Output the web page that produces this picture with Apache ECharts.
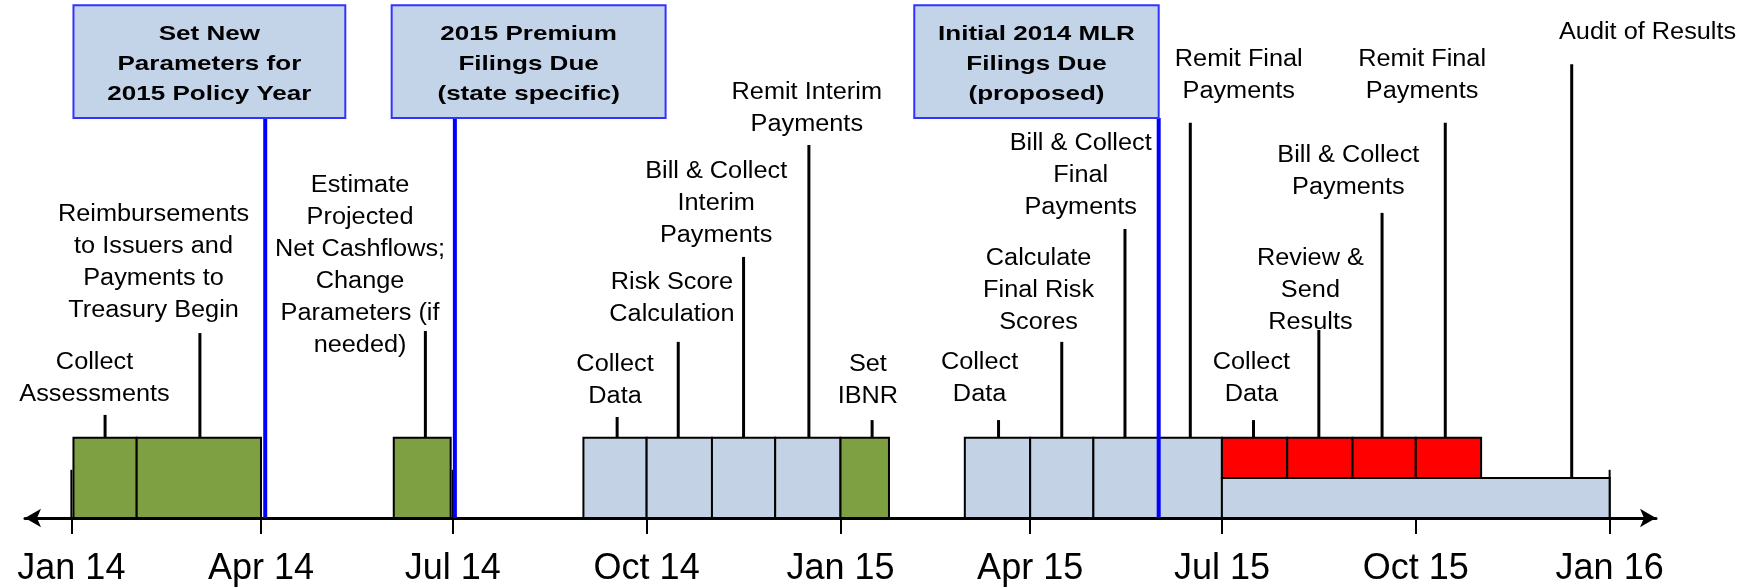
<!DOCTYPE html>
<html>
<head>
<meta charset="utf-8">
<style>
  html, body { margin: 0; padding: 0; background: #fff; }
  #chart { width: 1744px; height: 587px; }
</style>
<script src="https://cdn.jsdelivr.net/npm/echarts@6/dist/echarts.min.js"></script>
</head>
<body>
<div id="chart"></div>
<script>
// axis ticks
const tickDates = ['2014-01-01', '2014-04-01', '2014-07-01', '2014-10-01', '2015-01-01', '2015-04-01', '2015-07-01', '2015-10-01', '2016-01-01']
const tickLabels = ['Jan 14', 'Apr 14', 'Jul 14', 'Oct 14', 'Jan 15', 'Apr 15', 'Jul 15', 'Oct 15', 'Jan 16']

// timeline blocks (height scale 0-100)
const blockStart = ['2014-01-02', '2014-02-01', '2014-06-03', '2014-09-01', '2014-10-01', '2014-11-01', '2014-12-01', '2015-01-01', '2015-03-01', '2015-04-01', '2015-05-01', '2015-06-01', '2015-07-01', '2015-08-01', '2015-09-01', '2015-10-01', '2015-07-01']
const blockEnd = ['2014-02-01', '2014-04-01', '2014-06-30', '2014-10-01', '2014-11-01', '2014-12-01', '2015-01-01', '2015-01-24', '2015-04-01', '2015-05-01', '2015-06-01', '2015-07-01', '2015-08-01', '2015-09-01', '2015-10-01', '2015-11-01', '2016-01-01']
const blockBase = [0, 0, 0, 0, 0, 0, 0, 0, 0, 0, 0, 0, 7.7, 7.7, 7.7, 7.7, 0]
const blockTop = [15.5, 15.5, 15.5, 15.5, 15.5, 15.5, 15.5, 15.5, 15.5, 15.5, 15.5, 15.5, 15.5, 15.5, 15.5, 15.5, 7.7]
const blockKind = ['g', 'g', 'g', 'b', 'b', 'b', 'b', 'g', 'b', 'b', 'b', 'b', 'r', 'r', 'r', 'r', 'b']

// activity notes
const noteText = [
  'Collect\nAssessments',
  'Reimbursements\nto Issuers and\nPayments to\nTreasury Begin',
  'Estimate\nProjected\nNet Cashflows;\nChange\nParameters (if\nneeded)',
  'Collect\nData',
  'Risk Score\nCalculation',
  'Bill & Collect\nInterim\nPayments',
  'Remit Interim\nPayments',
  'Set\nIBNR',
  'Collect\nData',
  'Calculate\nFinal Risk\nScores',
  'Bill & Collect\nFinal\nPayments',
  'Remit Final\nPayments',
  'Collect\nData',
  'Review &\nSend\nResults',
  'Bill & Collect\nPayments',
  'Remit Final\nPayments',
  'Audit of Results'
]
const noteLineDate = ['2014-01-17', '2014-03-03', '2014-06-18', '2014-09-17', '2014-10-16', '2014-11-16', '2014-12-17', '2015-01-16', '2015-03-17', '2015-04-16', '2015-05-16', '2015-06-16', '2015-07-16', '2015-08-16', '2015-09-15', '2015-10-15', '2015-12-14']
const noteLineBase = [15.5, 15.5, 15.5, 15.5, 15.5, 15.5, 15.5, 15.5, 15.5, 15.5, 15.5, 15.5, 15.5, 15.5, 15.5, 15.5, 7.7]
const noteLineTop = [19.9, 35.7, 36.1, 19.5, 34.0, 50.4, 72.0, 18.9, 18.9, 34.0, 55.8, 76.3, 18.9, 36.3, 58.9, 76.3, 87.6]
const noteLabelDate = ['2014-01-12', '2014-02-09', '2014-05-18', '2014-09-16', '2014-10-13', '2014-11-03', '2014-12-16', '2015-01-14', '2015-03-08', '2015-04-05', '2015-04-25', '2015-07-09', '2015-07-15', '2015-08-12', '2015-08-30', '2015-10-04', '2016-01-19']
const noteLabelBottom = [20.7, 36.9, 30.1, 20.3, 36.1, 51.5, 72.8, 20.3, 20.7, 34.6, 56.8, 79.2, 20.7, 34.6, 60.6, 79.2, 90.7]

// milestones
const milestoneText = ['Set New\nParameters for\n2015 Policy Year', '2015 Premium\nFilings Due\n(state specific)', 'Initial 2014 MLR\nFilings Due\n(proposed)']
const milestoneStart = ['2014-01-02', '2014-06-02', '2015-02-05']
const milestoneEnd = ['2014-05-11', '2014-10-10', '2015-06-01']
const milestoneDate = ['2014-04-03', '2014-07-02', '2015-06-01']
const milestoneBottom = [77.2, 77.2, 77.2]
const milestoneTop = [99.0, 99.0, 99.0]

const t = s => new Date(s + 'T00:00:00Z').getTime()
const colours = { g: '#7F9F43', b: '#C3D2E5', r: '#FF0000' }
const FONT = '"Liberation Sans", Arial, sans-serif'

const chart = echarts.init(document.getElementById('chart'))

const option = {
  animation: false,
  grid: { left: 25, right: 88, top: 0, bottom: 69 },
  xAxis: {
    // dates as timestamps on a plain value axis
    type: 'value',
    min: t('2013-12-10'),
    max: t('2016-01-23'),
    axisLine: {
      show: true,
      symbol: ['arrow', 'arrow'],
      symbolSize: [14, 16],
      lineStyle: { color: '#000', width: 3 }
    },
    axisTick: {
      show: true,
      customValues: tickDates.map(t),
      length: 16,
      lineStyle: { color: '#000', width: 2 }
    },
    axisLabel: {
      customValues: tickDates.map(t),
      margin: 33,
      color: '#000',
      fontSize: 36,
      fontFamily: FONT,
      formatter: v => {
        const i = tickDates.findIndex(d => Math.abs(t(d) - v) < 86400000)
        return i < 0 ? '' : tickLabels[i]
      }
    },
    splitLine: { show: false }
  },
  yAxis: { type: 'value', min: 0, max: 100, show: false },
  series: [
    {
      // upper part of the tick marks
      type: 'custom',
      clip: false,
      z: 1,
      data: tickDates.map(d => [t(d), 0, 9.3]),
      encode: { x: 0, y: [1, 2] },
      renderItem (params, api) {
        const a = api.coord([api.value(0), api.value(1)])
        const b = api.coord([api.value(0), api.value(2)])
        return { type: 'line', shape: { x1: a[0], y1: a[1], x2: b[0], y2: b[1] }, style: { stroke: '#000', lineWidth: 2 } }
      }
    },
    {
      type: 'custom',
      clip: false,
      z: 2,
      data: blockStart.map((s, i) => [t(s), t(blockEnd[i]), blockBase[i], blockTop[i]]),
      encode: { x: [0, 1], y: [2, 3] },
      renderItem (params, api) {
        const p0 = api.coord([api.value(0), api.value(3)])
        const p1 = api.coord([api.value(1), api.value(2)])
        return {
          type: 'rect',
          shape: { x: p0[0], y: p0[1], width: p1[0] - p0[0], height: p1[1] - p0[1] },
          style: { fill: colours[blockKind[params.dataIndex]], stroke: '#000', lineWidth: 2 }
        }
      }
    },
    {
      type: 'custom',
      clip: false,
      z: 3,
      data: noteText.map((s, i) => [t(noteLineDate[i]), noteLineBase[i], noteLineTop[i], t(noteLabelDate[i]), noteLabelBottom[i]]),
      encode: { x: 0, y: 2 },
      renderItem (params, api) {
        const a = api.coord([api.value(0), api.value(1)])
        const b = api.coord([api.value(0), api.value(2)])
        const l = api.coord([api.value(3), api.value(4)])
        return {
          type: 'group',
          children: [
            { type: 'line', shape: { x1: a[0], y1: a[1], x2: b[0], y2: b[1] }, style: { stroke: '#000', lineWidth: 3 } },
            {
              type: 'text',
              x: l[0],
              y: l[1],
              scaleX: 1.1, // source text is slightly wide
              style: {
                text: noteText[params.dataIndex],
                align: 'center',
                verticalAlign: 'bottom',
                font: '23px ' + FONT,
                lineHeight: 32,
                fill: '#000'
              }
            }
          ]
        }
      }
    },
    {
      type: 'custom',
      clip: false,
      z: 4,
      data: milestoneText.map((s, i) => [t(milestoneStart[i]), t(milestoneEnd[i]), milestoneBottom[i], milestoneTop[i], t(milestoneDate[i])]),
      encode: { x: [0, 1], y: [2, 3] },
      renderItem (params, api) {
        const p0 = api.coord([api.value(0), api.value(3)])
        const p1 = api.coord([api.value(1), api.value(2)])
        const l0 = api.coord([api.value(4), 0])
        const l1 = api.coord([api.value(4), api.value(2)])
        return {
          type: 'group',
          children: [
            { type: 'line', shape: { x1: l0[0], y1: l0[1], x2: l1[0], y2: l1[1] }, style: { stroke: '#0000FF', lineWidth: 4 } },
            {
              type: 'rect',
              shape: { x: p0[0], y: p0[1], width: p1[0] - p0[0], height: p1[1] - p0[1] },
              style: { fill: '#C3D3E8', stroke: '#3333FF', lineWidth: 2 }
            },
            {
              type: 'text',
              x: (p0[0] + p1[0]) / 2,
              y: (p0[1] + p1[1]) / 2 + 2.5,
              scaleX: 1.24,
              style: {
                text: milestoneText[params.dataIndex],
                align: 'center',
                verticalAlign: 'middle',
                font: 'bold 21px ' + FONT,
                lineHeight: 30,
                fill: '#000'
              }
            }
          ]
        }
      }
    }
  ]
}

chart.setOption(option)
</script>
</body>
</html>
